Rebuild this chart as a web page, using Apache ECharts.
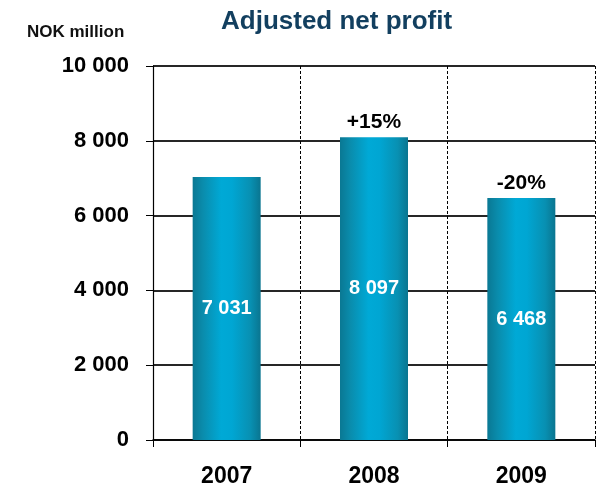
<!DOCTYPE html>
<html>
<head>
<meta charset="utf-8">
<script src="https://cdn.jsdelivr.net/npm/echarts@6/dist/echarts.min.js"></script>
<style>html,body{margin:0;padding:0;background:#fff}#c{width:596px;height:488px}</style>
</head>
<body>
<div id="c"></div>
<script>
var years = ['2007', '2008', '2009'];
var profit = [7031, 8097, 6468];
var growth = ['', '+15%', '-20%'];
var yTicks = [0, 2000, 4000, 6000, 8000, 10000];

function fmt(v) { return String(v).replace(/\B(?=(\d{3})+(?!\d))/g, ' '); }
var FONT = '"Liberation Sans", Arial, sans-serif';

var chart = echarts.init(document.getElementById('c'));
chart.setOption({
  animation: false,
  title: [
    { text: 'Adjusted net profit', left: 221, top: 9, padding: 0,
      textStyle: { fontFamily: FONT, fontSize: 26, fontWeight: 'bold', color: '#123f5f' } },
    { text: 'NOK million', left: 27, top: 24, padding: 0,
      textStyle: { fontFamily: FONT, fontSize: 17, fontWeight: 'bold', color: '#111' } }
  ],
  grid: { left: 153, right: 1, top: 66, bottom: 47, containLabel: false },
  xAxis: {
    type: 'category',
    data: years,
    boundaryGap: true,
    axisLine: { show: true, lineStyle: { color: '#000', width: 1.5 } },
    axisTick: { show: true, length: 7, interval: 0, lineStyle: { color: '#000', width: 1 } },
    axisLabel: { margin: 25, fontFamily: FONT, fontSize: 23, fontWeight: 'bold', color: '#000' },
    splitLine: { show: true, interval: 0, lineStyle: { color: '#000', width: 1, type: [3, 2] } }
  },
  yAxis: {
    type: 'value',
    min: yTicks[0], max: yTicks[yTicks.length - 1], interval: yTicks[1] - yTicks[0],
    axisLine: { show: true, lineStyle: { color: '#000', width: 1.2 } },
    axisTick: { show: true, length: 7, lineStyle: { color: '#000' } },
    axisLabel: { margin: 24, fontFamily: FONT, fontSize: 22, fontWeight: 'bold', color: '#000',
      formatter: function (v) { return fmt(v); } },
    splitLine: { show: true, lineStyle: { color: '#262626', width: 2 } }
  },
  series: [
    {
      type: 'bar',
      data: profit,
      barWidth: 68,
      itemStyle: {
        color: new echarts.graphic.LinearGradient(0, 0, 1, 0, [
          { offset: 0, color: '#0a7893' },
          { offset: 0.15, color: '#0a8cac' },
          { offset: 0.42, color: '#00a9d6' },
          { offset: 0.58, color: '#00a6d3' },
          { offset: 0.85, color: '#0890b2' },
          { offset: 1, color: '#0a7590' }
        ])
      },
      label: { show: true, position: 'inside', fontFamily: FONT, fontSize: 20, fontWeight: 'bold', color: '#fff',
        formatter: function (p) { return fmt(p.value); } },
      z: 3
    },
    {
      type: 'bar',
      data: profit,
      barWidth: 68,
      barGap: '-100%',
      itemStyle: { color: 'rgba(0,0,0,0)' },
      label: { show: true, position: 'top', distance: 4, fontFamily: FONT, fontSize: 21, fontWeight: 'bold', color: '#000',
        formatter: function (p) { return growth[p.dataIndex]; } },
      silent: true,
      z: 4
    }
  ]
});
</script>
</body>
</html>
